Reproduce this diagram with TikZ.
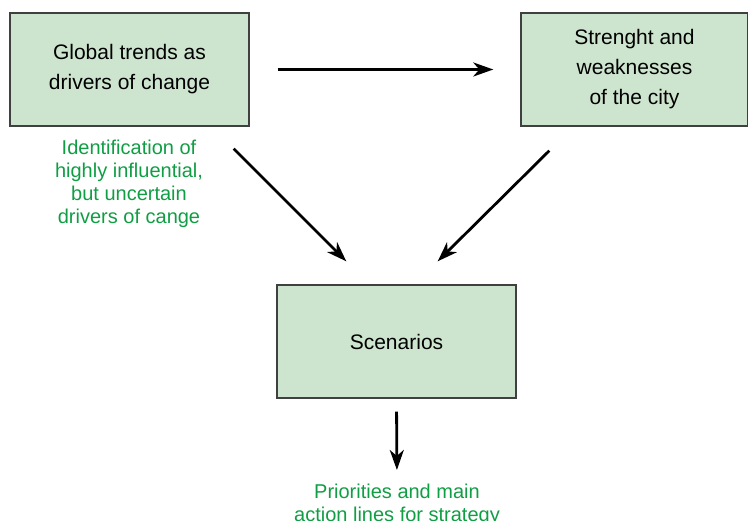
\documentclass[tikz,border=0pt]{standalone}
\usepackage{fontspec}
\setmainfont{Liberation Sans}
\usetikzlibrary{arrows.meta}
\definecolor{boxgreen}{RGB}{205,229,206}
\definecolor{textgreen}{RGB}{16,158,68}
\tikzset{
  >={Stealth[length=20pt,width=14pt,inset=6pt]},
}
\tikzstyle{block}=[draw=black!75,line width=1.4pt,fill=boxgreen,
  minimum width=239pt,minimum height=113pt,align=center,
  font=\fontsize{21}{30}\selectfont]
\tikzstyle{note}=[text=textgreen,align=center,inner sep=0pt,
  font=\fontsize{20}{23}\selectfont]
\tikzstyle{flow}=[line width=2.8pt,->]

\begin{document}
\begin{tikzpicture}[x=1pt,y=-1pt]
        \useasboundingbox (0,0) rectangle (748,521);
        \node[block] (glob) at (129.5,69.5) {Global trends as\\drivers of change};
        \node[block,minimum width=227pt] (city) at (634.5,69.5)
          {Strenght and\\weaknesses\\ of the city};
        \node[block] (scen) at (396.5,341.5) {Scenarios};
        \node[note] (ident) at (129,184)
          {Identification of\\highly influential,\\but uncertain\\drivers of cange};
        \node[note] (prio) at (397,505)
          {Priorities and main\\action lines for strategy};
        \draw[flow,shorten <=28pt,shorten >=27pt] (glob.east) -- (city.west);
        \draw[flow] ([shift={(-16,22)}]glob.south east)
          -- ([shift={(70,-23)}]scen.north west);
        \draw[flow] ([shift={(29,24)}]city.south west)
          -- ([shift={(-79,-23)}]scen.north east);
        \draw[flow,shorten <=13pt,shorten >=14pt] (scen.south) -- (prio.north);
      \end{tikzpicture}
\end{document}
